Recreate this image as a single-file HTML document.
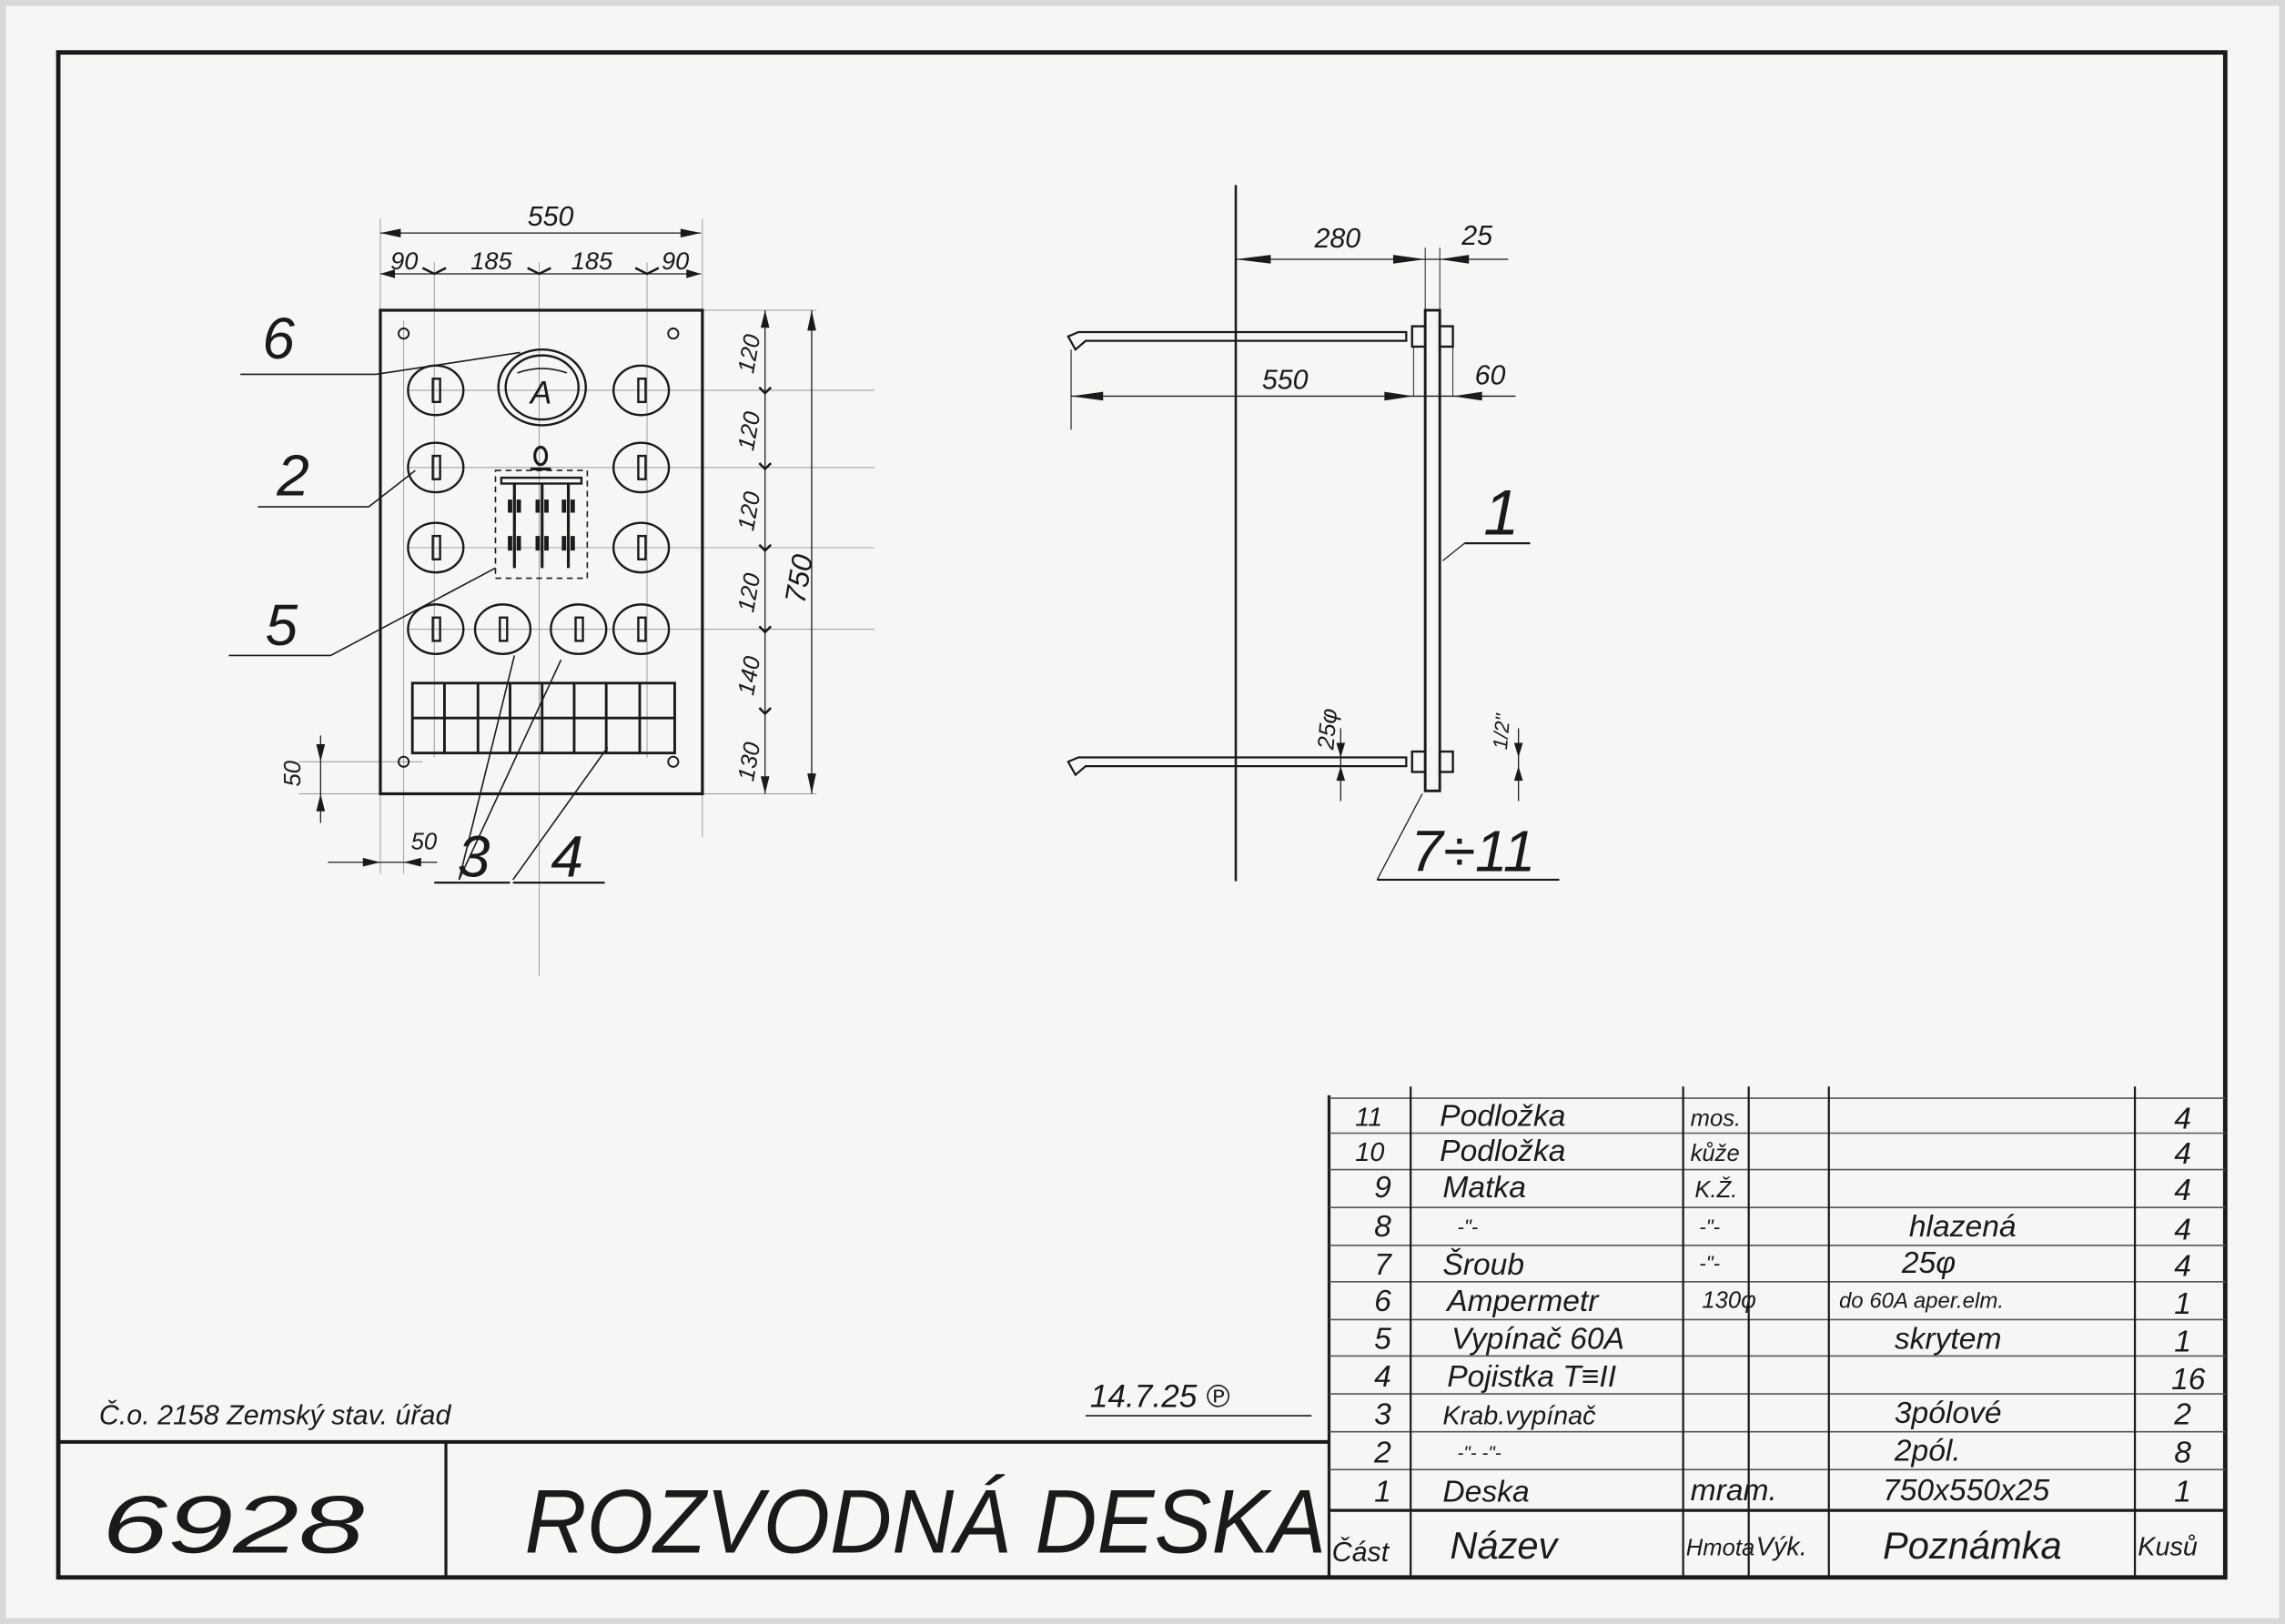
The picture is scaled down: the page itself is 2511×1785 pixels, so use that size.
<!DOCTYPE html>
<html><head><meta charset="utf-8"><style>
html,body{margin:0;padding:0;background:#f4f4f2;}
svg{display:block}
text{font-family:"Liberation Sans",sans-serif;font-style:italic;fill:#1a1a1a}
</style></head><body>
<svg width="2511" height="1785" viewBox="0 0 1568 1115" preserveAspectRatio="none" xmlns="http://www.w3.org/2000/svg">
<rect x="0" y="0" width="1568" height="1115" fill="#f6f6f4"/>
<rect x="2" y="2" width="1564" height="1111" fill="none" stroke="#d8d8d6" stroke-width="4"/>
<g stroke="#1a1a1a" fill="none">
<!-- frame -->
<rect x="40" y="36" width="1487" height="1047" stroke-width="3"/>
<line x1="40" y1="990" x2="912" y2="990" stroke-width="2.5"/>
<line x1="306" y1="990" x2="306" y2="1083" stroke-width="2"/>
<!-- table -->
<line x1="912" y1="752" x2="912" y2="1083" stroke-width="2"/>
<g stroke-width="1" stroke="#555">
<line x1="912" y1="754" x2="1527" y2="754"/>
<line x1="912" y1="778" x2="1527" y2="778"/>
<line x1="912" y1="803" x2="1527" y2="803"/>
<line x1="912" y1="829" x2="1527" y2="829"/>
<line x1="912" y1="855" x2="1527" y2="855"/>
<line x1="912" y1="880" x2="1527" y2="880"/>
<line x1="912" y1="906" x2="1527" y2="906"/>
<line x1="912" y1="931" x2="1527" y2="931"/>
<line x1="912" y1="957" x2="1527" y2="957"/>
<line x1="912" y1="983" x2="1527" y2="983"/>
<line x1="912" y1="1009" x2="1527" y2="1009"/>
</g>
<line x1="912" y1="1037" x2="1527" y2="1037" stroke-width="2"/>
<g stroke-width="1.4">
<line x1="968" y1="746" x2="968" y2="1083"/>
<line x1="1155" y1="746" x2="1155" y2="1083"/>
<line x1="1200" y1="746" x2="1200" y2="1083"/>
<line x1="1255" y1="746" x2="1255" y2="1083"/>
<line x1="1465" y1="746" x2="1465" y2="1083"/>
</g>

<!-- LEFT DRAWING -->
<g stroke="#999" stroke-width="0.6">
<line x1="298" y1="180" x2="298" y2="520"/><line x1="370" y1="180" x2="370" y2="670"/><line x1="444" y1="180" x2="444" y2="520"/>
<line x1="261" y1="150" x2="261" y2="600"/><line x1="482" y1="150" x2="482" y2="575"/>
<line x1="482" y1="213" x2="560" y2="213"/><line x1="280" y1="268" x2="600" y2="268"/><line x1="280" y1="321" x2="600" y2="321"/><line x1="280" y1="376" x2="600" y2="376"/><line x1="280" y1="432" x2="600" y2="432"/>
<line x1="482" y1="545" x2="560" y2="545"/><line x1="205" y1="545" x2="261" y2="545"/><line x1="205" y1="523" x2="290" y2="523"/>
<line x1="277" y1="220" x2="277" y2="600"/>
</g>
<rect x="261" y="213" width="221" height="332" stroke-width="2"/>
<line x1="261" y1="160" x2="481" y2="160" stroke-width="0.8"/>
<line x1="261" y1="188" x2="481" y2="188" stroke-width="0.8"/>
<line x1="525" y1="213" x2="525" y2="545" stroke-width="0.8"/>
<line x1="557" y1="213" x2="557" y2="545" stroke-width="0.8"/>
<!-- holes -->
<circle cx="277" cy="229" r="3.5" stroke-width="1.2"/><circle cx="462" cy="229" r="3.5" stroke-width="1.2"/>
<circle cx="277" cy="523" r="3.5" stroke-width="1.2"/><circle cx="462" cy="523" r="3.5" stroke-width="1.2"/>
<!-- switches -->
<g stroke-width="1.5">
<ellipse cx="299" cy="268" rx="19" ry="17"/><ellipse cx="440" cy="268" rx="19" ry="17"/>
<ellipse cx="299" cy="321" rx="19" ry="17"/><ellipse cx="440" cy="321" rx="19" ry="17"/>
<ellipse cx="299" cy="376" rx="19" ry="17"/><ellipse cx="440" cy="376" rx="19" ry="17"/>
<ellipse cx="299" cy="432" rx="19" ry="17"/><ellipse cx="345" cy="432" rx="19" ry="17"/><ellipse cx="397" cy="432" rx="19" ry="17"/><ellipse cx="440" cy="432" rx="19" ry="17"/>
<rect x="297" y="260" width="5" height="16"/><rect x="438" y="260" width="5" height="16"/>
<rect x="297" y="313" width="5" height="16"/><rect x="438" y="313" width="5" height="16"/>
<rect x="297" y="368" width="5" height="16"/><rect x="438" y="368" width="5" height="16"/>
<rect x="297" y="424" width="5" height="16"/><rect x="343" y="424" width="5" height="16"/><rect x="395" y="424" width="5" height="16"/><rect x="438" y="424" width="5" height="16"/>
</g>
<!-- ammeter -->
<ellipse cx="372" cy="266" rx="30" ry="26" stroke-width="1.5"/>
<ellipse cx="372" cy="266" rx="25" ry="22" stroke-width="1.5"/>
<path d="M355 256 Q372 250 389 256" stroke-width="1"/>
<!-- main switch -->
<rect x="340" y="323" width="63" height="74" stroke-dasharray="4,3" stroke-width="1"/>
<ellipse cx="371" cy="313" rx="4" ry="6" stroke-width="2"/>
<line x1="364" y1="322" x2="378" y2="322" stroke-width="2"/>
<rect x="344" y="328" width="55" height="4" stroke-width="1.5"/>
<g stroke-width="2"><line x1="353" y1="332" x2="353" y2="390"/><line x1="372" y1="332" x2="372" y2="390"/><line x1="390" y1="332" x2="390" y2="390"/></g>
<g stroke-width="3"><line x1="350" y1="343" x2="350" y2="352"/><line x1="356" y1="343" x2="356" y2="352"/><line x1="369" y1="343" x2="369" y2="352"/><line x1="375" y1="343" x2="375" y2="352"/><line x1="387" y1="343" x2="387" y2="352"/><line x1="393" y1="343" x2="393" y2="352"/>
<line x1="350" y1="368" x2="350" y2="378"/><line x1="356" y1="368" x2="356" y2="378"/><line x1="369" y1="368" x2="369" y2="378"/><line x1="375" y1="368" x2="375" y2="378"/><line x1="387" y1="368" x2="387" y2="378"/><line x1="393" y1="368" x2="393" y2="378"/></g>
<!-- fuse grid -->
<g stroke-width="1.8">
<rect x="283" y="469" width="180" height="48"/>
<line x1="283" y1="493" x2="463" y2="493"/>
<line x1="305" y1="469" x2="305" y2="517"/><line x1="328" y1="469" x2="328" y2="517"/><line x1="350" y1="469" x2="350" y2="517"/><line x1="372" y1="469" x2="372" y2="517"/><line x1="394" y1="469" x2="394" y2="517"/><line x1="416" y1="469" x2="416" y2="517"/><line x1="439" y1="469" x2="439" y2="517"/>
</g>
<!-- leaders -->
<g stroke-width="1">
<line x1="165" y1="257" x2="258" y2="257"/><line x1="258" y1="257" x2="357" y2="242"/>
<line x1="177" y1="348" x2="253" y2="348"/><line x1="253" y1="348" x2="285" y2="323"/>
<line x1="157" y1="450" x2="227" y2="450"/><line x1="227" y1="450" x2="340" y2="390"/>
<line x1="298" y1="606" x2="350" y2="606" stroke-width="1.4"/><line x1="352" y1="606" x2="415" y2="606" stroke-width="1.4"/>
<line x1="315" y1="604" x2="353" y2="450"/><line x1="315" y1="604" x2="385" y2="453"/><line x1="352" y1="604" x2="417" y2="513"/>
</g>
<!-- dim arrows -->
<g fill="#1a1a1a" stroke="none">
<path d="M261 160 l14 -3 l0 6z"/><path d="M481 160 l-14 -3 l0 6z"/>
<path d="M261 188 l10 -3 l0 6z"/><path d="M481 188 l-10 -3 l0 6z"/>
<path d="M525 213 l-3 12 l6 0z"/><path d="M525 545 l-3 -12 l6 0z"/>
<path d="M557 213 l-3 14 l6 0z"/><path d="M557 545 l-3 -14 l6 0z"/>
<path d="M220 523 l-3 -12 l6 0z"/><path d="M220 545 l-3 12 l6 0z"/>
</g>
<g stroke-width="1.6"><path d="M290 184 l8 4 l8 -4"/><path d="M362 184 l8 4 l8 -4"/><path d="M436 184 l8 4 l8 -4"/>
<path d="M521 266 l4 4 l4 -4"/><path d="M521 318 l4 4 l4 -4"/><path d="M521 374 l4 4 l4 -4"/><path d="M521 430 l4 4 l4 -4"/><path d="M521 486 l4 4 l4 -4"/></g>
<line x1="220" y1="505" x2="220" y2="565" stroke-width="0.8"/>
<line x1="225" y1="592" x2="300" y2="592" stroke-width="0.8"/>
<path d="M261 592 l-12 -3 l0 6z M277 592 l12 -3 l0 6z" fill="#1a1a1a" stroke="none"/>

<!-- RIGHT DRAWING -->
<line x1="848" y1="127" x2="848" y2="605" stroke-width="1.6"/>
<rect x="978" y="213" width="10" height="330" stroke-width="1.8"/>
<g stroke-width="1.4">
<path d="M740 228 L965 228 L965 234 L745 234 L738 240 L733 231 L740 228z"/>
<path d="M740 520 L965 520 L965 526 L745 526 L738 532 L733 523 L740 520z"/>
</g>
<rect x="969" y="224" width="9" height="14" stroke-width="1.5"/><rect x="988" y="224" width="9" height="14" stroke-width="1.5"/>
<rect x="969" y="516" width="9" height="14" stroke-width="1.5"/><rect x="988" y="516" width="9" height="14" stroke-width="1.5"/>
<line x1="848" y1="178" x2="1035" y2="178" stroke-width="0.8"/>
<line x1="735" y1="272" x2="1040" y2="272" stroke-width="0.8"/>
<line x1="735" y1="240" x2="735" y2="295" stroke-width="0.7"/>
<line x1="978" y1="170" x2="978" y2="213" stroke-width="0.6"/><line x1="988" y1="170" x2="988" y2="213" stroke-width="0.6"/>
<line x1="970" y1="238" x2="970" y2="272" stroke-width="0.6"/><line x1="997" y1="238" x2="997" y2="272" stroke-width="0.6"/>
<line x1="920" y1="500" x2="920" y2="550" stroke-width="0.8"/>
<line x1="1042" y1="500" x2="1042" y2="550" stroke-width="0.8"/>
<line x1="1005" y1="373" x2="1050" y2="373" stroke-width="1.4"/><line x1="1005" y1="373" x2="990" y2="385" stroke-width="0.8"/>
<line x1="945" y1="604" x2="1070" y2="604" stroke-width="1.4"/><line x1="945" y1="604" x2="976" y2="545" stroke-width="0.8"/>
<g fill="#1a1a1a" stroke="none">
<path d="M848 178 l24 -3 l0 6z"/><path d="M978 178 l-22 -3 l0 6z"/><path d="M988 178 l20 -3 l0 6z"/>
<path d="M735 272 l22 -3 l0 6z"/><path d="M970 272 l-20 -3 l0 6z"/><path d="M997 272 l20 -3 l0 6z"/>
<path d="M920 520 l-3 -10 l6 0z"/><path d="M920 526 l-3 10 l6 0z"/>
<path d="M1042 520 l-3 -10 l6 0z"/><path d="M1042 526 l-3 10 l6 0z"/>
</g>
</g>

<!-- TEXT -->
<g font-size="19">
<text x="362" y="155">550</text>
<text x="268" y="185" font-size="17">90</text><text x="323" y="185" font-size="17">185</text><text x="392" y="185" font-size="17">185</text><text x="454" y="185" font-size="17">90</text>
<text x="364" y="277" font-size="22" font-style="normal">A</text>
<g font-size="16">
<text transform="translate(517,257) rotate(-80)">120</text>
<text transform="translate(517,310) rotate(-80)">120</text>
<text transform="translate(517,365) rotate(-80)">120</text>
<text transform="translate(517,421) rotate(-80)">120</text>
<text transform="translate(517,478) rotate(-80)">140</text>
<text transform="translate(517,537) rotate(-80)">130</text>
<text transform="translate(206,540) rotate(-90)">50</text>
<text x="282" y="583">50</text>
</g>
<text transform="translate(552,415) rotate(-80)" font-size="20">750</text>
<text x="180" y="246" font-size="40">6</text>
<text x="190" y="340" font-size="40">2</text>
<text x="182" y="443" font-size="40">5</text>
<text x="314" y="602" font-size="40">3</text>
<text x="378" y="602" font-size="40">4</text>
<text x="902" y="170">280</text><text x="1003" y="168">25</text>
<text x="866" y="267">550</text><text x="1012" y="264">60</text>
<text x="1018" y="367" font-size="44">1</text>
<text transform="translate(915,515) rotate(-85)" font-size="16">25φ</text>
<text transform="translate(1034,515) rotate(-85)" font-size="14">1/2"</text>
<text x="968" y="598" font-size="40">7÷11</text>
</g>
<g font-size="21">
<text x="930" y="773" font-size="18">11</text><text x="988" y="773">Podložka</text><text x="1160" y="773" font-size="16">mos.</text><text x="1492" y="775">4</text>
<text x="930" y="797" font-size="18">10</text><text x="988" y="797">Podložka</text><text x="1160" y="797" font-size="16">kůže</text><text x="1492" y="799">4</text>
<text x="943" y="822">9</text><text x="990" y="822">Matka</text><text x="1163" y="822" font-size="16">K.Ž.</text><text x="1492" y="824">4</text>
<text x="943" y="849">8</text><text x="1000" y="847" font-size="14">-"-</text><text x="1166" y="847" font-size="14">-"-</text><text x="1310" y="849">hlazená</text><text x="1492" y="851">4</text>
<text x="943" y="875">7</text><text x="990" y="875">Šroub</text><text x="1166" y="872" font-size="14">-"-</text><text x="1305" y="874">25φ</text><text x="1492" y="876">4</text>
<text x="943" y="900">6</text><text x="993" y="900">Ampermetr</text><text x="1168" y="898" font-size="16" fill="#666">130φ</text><text x="1262" y="898" font-size="15">do 60A aper.elm.</text><text x="1492" y="902">1</text>
<text x="943" y="926">5</text><text x="996" y="926">Vypínač 60A</text><text x="1300" y="926">skrytem</text><text x="1492" y="928">1</text>
<text x="943" y="952">4</text><text x="993" y="952">Pojistka T≡II</text><text x="1490" y="954">16</text>
<text x="943" y="978">3</text><text x="990" y="978" font-size="18">Krab.vypínač</text><text x="1300" y="977">3pólové</text><text x="1492" y="978">2</text>
<text x="943" y="1004">2</text><text x="1000" y="1002" font-size="13">-"-    -"-</text><text x="1300" y="1003">2pól.</text><text x="1492" y="1004">8</text>
<text x="943" y="1031">1</text><text x="990" y="1031">Deska</text><text x="1160" y="1030">mram.</text><text x="1292" y="1030">750x550x25</text><text x="1492" y="1031">1</text>
<text x="914" y="1072" font-size="19">Část</text><text x="995" y="1070" font-size="26">Název</text><text x="1157" y="1068" font-size="16">Hmota</text><text x="1205" y="1068" font-size="18">Výk.</text><text x="1292" y="1070" font-size="26">Poznámka</text><text x="1467" y="1068" font-size="18">Kusů</text>
</g>
<text x="68" y="978" font-size="19">Č.o. 2158 Zemský stav. úřad</text>
<text x="748" y="966" font-size="22">14.7.25 ℗</text>
<line x1="745" y1="972" x2="900" y2="972" stroke="#1a1a1a" stroke-width="1"/>
<text x="70" y="1066" font-size="56" font-style="normal" textLength="180" lengthAdjust="spacingAndGlyphs">6928</text>
<text x="360" y="1066" font-size="62" textLength="550" lengthAdjust="spacingAndGlyphs" font-style="normal">ROZVODNÁ DESKA</text>
</svg>
</body></html>
